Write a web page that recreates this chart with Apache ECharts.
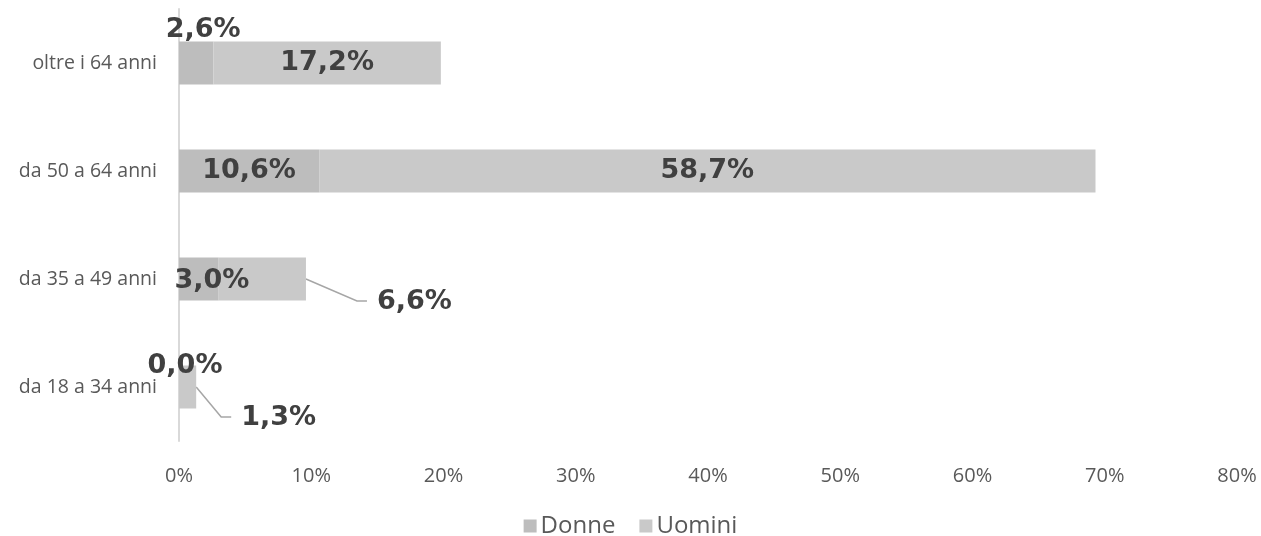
<!DOCTYPE html>
<html>
<head>
<meta charset="utf-8">
<script src="https://cdn.jsdelivr.net/npm/echarts@6/dist/echarts.min.js"></script>
<style>
  html, body { margin: 0; padding: 0; background: #ffffff; }
  #chart { width: 1261px; height: 536px; }
</style>
</head>
<body>
<div id="chart"></div>
<script>
// Fasce d'età (dal basso verso l'alto)
const categories = ['da 18 a 34 anni', 'da 35 a 49 anni', 'da 50 a 64 anni', 'oltre i 64 anni'];
// Percentuali per genere
const donne = [0.0, 3.0, 10.6, 2.6];
const uomini = [1.3, 6.6, 58.7, 17.2];
// Etichette dell'asse orizzontale
const xTicks = [0, 10, 20, 30, 40, 50, 60, 70, 80];

const fmt = v => v.toFixed(1).replace('.', ',') + '%';

// Spostamenti (px) delle etichette che non entrano nella barra
const shiftDonne = [[6, -21], [13, 2], [0, 0], [7, -33]];
// Etichette esterne degli uomini: [spostamento x dal bordo della barra, spostamento y]
const outsideUomini = { 0: [45, 31], 1: [71, 23] };

const LABEL_FONT = { fontFamily: 'DejaVu Sans', fontWeight: 'bold', fontSize: 27, color: '#404040' };

const labelStyle = Object.assign({
  show: true,
  position: 'inside',
  formatter: p => fmt(p.value)
}, LABEL_FONT);

const uominiData = uomini.map((v, i) => {
  const o = outsideUomini[i];
  if (!o) return v;
  return {
    value: v,
    label: { position: 'right', distance: 0, offset: o, align: 'left' }
  };
});

const chart = echarts.init(document.getElementById('chart'), null, { renderer: 'canvas' });

function leaderLines() {
  // Linee guida dal bordo della barra all'etichetta spostata
  const out = [];
  Object.keys(outsideUomini).forEach(k => {
    const i = +k;
    const o = outsideUomini[i];
    const end = chart.convertToPixel({ gridIndex: 0 }, [donne[i] + uomini[i], i]);
    const x0 = end[0], y0 = end[1];
    const tx = x0 + o[0], ty = y0 + o[1] - 1;
    out.push({
      type: 'polyline',
      silent: true,
      shape: { points: [[x0, y0], [tx - 20, ty], [tx - 10, ty]] },
      style: { stroke: '#a6a6a6', lineWidth: 1.5, fill: null }
    });
  });
  return out;
}

chart.setOption({
  animation: false,
  backgroundColor: '#ffffff',
  grid: { left: 179, right: 24, top: 9, bottom: 95, containLabel: false },
  legend: {
    bottom: -7,
    left: 'center',
    itemWidth: 13,
    itemHeight: 13,
    itemGap: 24,
    icon: 'rect',
    textStyle: { fontFamily: 'Open Sans', fontSize: 24, color: '#595959', padding: [0, 0, 0, -1] },
    data: ['Donne', 'Uomini']
  },
  xAxis: {
    type: 'value',
    min: xTicks[0],
    max: xTicks[xTicks.length - 1],
    interval: xTicks[1] - xTicks[0],
    axisLine: { show: false },
    axisTick: { show: false },
    splitLine: { show: false },
    axisLabel: {
      margin: 25,
      fontFamily: 'Open Sans',
      fontSize: 20,
      color: '#595959',
      formatter: '{value}%'
    }
  },
  yAxis: {
    type: 'category',
    data: categories,
    axisLine: { show: true, lineStyle: { color: '#d9d9d9', width: 2 } },
    axisTick: { show: false },
    axisLabel: {
      margin: 22,
      fontFamily: 'Open Sans',
      fontSize: 19.5,
      color: '#595959'
    }
  },
  series: [
    {
      name: 'Donne',
      type: 'bar',
      stack: 'tot',
      barWidth: 43,
      data: donne,
      itemStyle: { color: '#bdbdbd' },
      label: labelStyle,
      labelLayout: p => ({ dx: shiftDonne[p.dataIndex][0], dy: shiftDonne[p.dataIndex][1] })
    },
    {
      name: 'Uomini',
      type: 'bar',
      stack: 'tot',
      barWidth: 43,
      data: uominiData,
      itemStyle: { color: '#c9c9c9' },
      label: labelStyle
    }
  ]
});

chart.setOption({ graphic: leaderLines() });
</script>
</body>
</html>
